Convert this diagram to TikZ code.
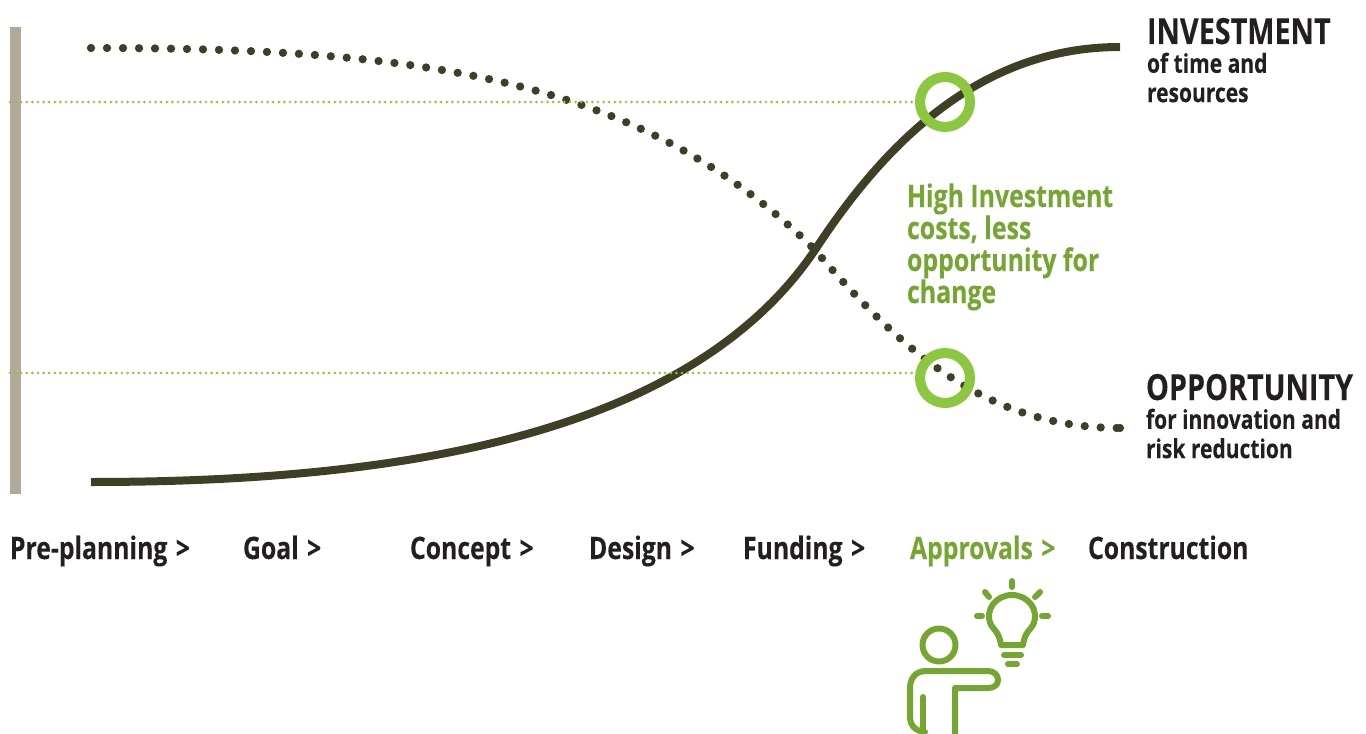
\documentclass[tikz,border=0pt]{standalone}
\usepackage{fontspec}
\setmainfont[FakeStretch=0.8,FakeBold=0.15]{Open Sans Bold}
\usetikzlibrary{
  positioning
}
\definecolor{curvedark}{HTML}{3F3F26}
\definecolor{ringgreen}{HTML}{8DC63F}
\definecolor{textgreen}{HTML}{76A632}
\definecolor{textdark}{HTML}{231F20}
\definecolor{barbeige}{HTML}{B2A99A}
\newcommand{\stagegt}{\hspace{1.5pt}>}
\tikzset{
  every node/.style={inner sep=0, outer sep=0, align=left, text=textdark},
  stagelabel/.style={anchor=base west, font=\fontsize{23.2}{28}\selectfont},
  headlabel/.style={anchor=base west, font=\fontsize{27}{30}\selectfont},
  sublabel/.style={anchor=north west, font=\fontsize{19.7}{22}\selectfont},
  curvesolid/.style={draw=curvedark, line width=6pt},
  curvedots/.style={draw=curvedark, line width=6.2pt, line cap=round, dash pattern=on 0pt off 12pt},
  guideline/.style={draw=ringgreen, line width=2.2pt, line cap=round, dash pattern=on 0pt off 4.2pt},
  ring/.style={circle, draw=ringgreen, line width=7.5pt, minimum size=37.5pt},
  icon/.style={draw=textgreen, line width=4.5pt, line cap=round, line join=round},
}
\begin{document}
\begin{tikzpicture}[x=0.75pt, y=-0.75pt]
      \useasboundingbox (0,0) rectangle (1366,734);
      \fill[barbeige] (10,27) rectangle (21,494);

      \coordinate (guideA) at (10,102);
      \coordinate (guideB) at (10,373);
      \coordinate (solidstart) at (91,482);
      \coordinate (solidmid) at (815,250);
      \coordinate (solidend) at (1120,47);
      \coordinate (dotstart) at (91,48);
      \coordinate (dotend) at (1120,428);

      \draw[curvesolid] (solidstart) .. controls (400,482) and (690,435) .. (solidmid)
        .. controls (885,143) and (980,47) .. (solidend);
      \draw[curvedots] (dotstart) .. controls (420,48) and (640,77) .. (solidmid)
        .. controls (905,355) and (990,428) .. (dotend);
      \fill[curvedark] (dotend) circle (4.1);

      \node[ring] (ringtop) at (945,102) {};
      \node[ring] (ringlow) at (945,378) {};

      \draw[guideline] (guideA) -- (ringtop.west);
      \draw[guideline] (guideB) -- (ringlow.west |- guideB);

      \node[headlabel] (invest) at (1147,44) {INVESTMENT};
      \node[sublabel, below = 6.5pt of invest.base west, anchor=north west] (investsub) {of time and\\resources};
      \node[headlabel] (oppor) at (1146,400) {OPPORTUNITY};
      \node[sublabel, below = 6.5pt of oppor.base west, anchor=north west] (opporsub) {for innovation and\\risk reduction};

      \node[anchor=base west, text=textgreen, font=\fontsize{23.3}{24}\selectfont] (note) at (907,303)
        {High Investment\\costs, less\\opportunity for\\change};

      \node[stagelabel] (preplan) at (10,559) {Pre-planning \stagegt};
      \node[stagelabel] (goal) at (243,559) {Goal \stagegt};
      \node[stagelabel] (concept) at (410,559) {Concept \stagegt};
      \node[stagelabel] (design) at (589,559) {Design \stagegt};
      \node[stagelabel] (funding) at (743,559) {Funding \stagegt};
      \node[stagelabel, text=textgreen] (approvals) at (910,559) {Approvals \stagegt};
      \node[stagelabel] (build) at (1088,559) {Construction};

      % person
      \draw[icon] (939,645) circle (16.5);
      \draw[icon] (925,732) .. controls (915,731) and (910,725) .. (910,718) -- (910,688)
        .. controls (910,678) and (916,671) .. (926,671) -- (988,671)
        .. controls (994,671) and (998,675) .. (998,680)
        .. controls (998,685) and (994,688) .. (988,688) -- (955,688) -- (955,734);
      \draw[icon] (923,697) -- (923,732);
      % bulb
      \draw[icon] (1001,645) -- (1023,645)
        .. controls (1025,632) and (1030,630) .. (1033,625)
        .. controls (1040,610) and (1028,595) .. (1012,595)
        .. controls (996,595) and (984,610) .. (991,625)
        .. controls (994,630) and (999,632) .. (1001,645);
      \draw[icon] (1004,655) -- (1021,655);
      \draw[icon] (1008,664) -- (1017,664);
      \draw[icon] (1012,581) -- (1012,587);
      \draw[icon] (977,616) -- (982,616);
      \draw[icon] (1042,616) -- (1048,616);
      \draw[icon] (985,592) -- (989,597);
      \draw[icon] (1040,592) -- (1035,597);
    \end{tikzpicture}
\end{document}
